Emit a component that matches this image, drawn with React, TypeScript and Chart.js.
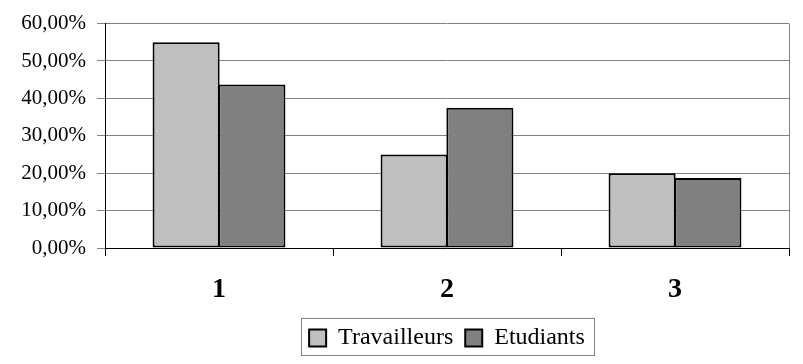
import React, { useEffect, useRef } from "react";
import { Chart, registerables } from "chart.js";

Chart.register(...registerables);

const categories = ["1", "2", "3"];
const travailleurs = [55, 25, 20];
const etudiants = [43.75, 37.5, 18.75];
const seriesNames = ["Travailleurs", "Etudiants"];
const yMin = 0;
const yMax = 60;
const yStep = 10;

const SERIF = "'Liberation Serif', 'Times New Roman', serif";

const framePlugin = {
  id: "frame",
  beforeDatasetsDraw(chart: any) {
    const { ctx, chartArea } = chart;
    ctx.save();
    ctx.strokeStyle = "#808080";
    ctx.lineWidth = 1;
    ctx.beginPath();
    const x = Math.round(chartArea.right) + 0.5;
    ctx.moveTo(x, chartArea.top);
    ctx.lineTo(x, chartArea.bottom);
    ctx.stroke();
    ctx.restore();
  },
  afterDraw(chart: any) {
    const { ctx, legend } = chart;
    if (!legend || !legend.legendHitBoxes || !legend.legendHitBoxes.length) return;
    const boxes = legend.legendHitBoxes;
    const l = Math.min(...boxes.map((b: any) => b.left)) - 8;
    const r = Math.max(...boxes.map((b: any) => b.left + b.width)) + 9;
    const t = legend.top + 4;
    const b = legend.bottom - 5;
    ctx.save();
    ctx.strokeStyle = "#808080";
    ctx.lineWidth = 1;
    ctx.strokeRect(Math.round(l) + 0.5, Math.round(t) + 0.5, Math.round(r - l), Math.round(b - t));
    ctx.restore();
  },
};

export default function App() {
  const ref = useRef<HTMLCanvasElement | null>(null);

  useEffect(() => {
    if (!ref.current) return;
    const chart = new Chart(ref.current, {
      type: "bar",
      data: {
        labels: categories,
        datasets: [
          {
            label: seriesNames[0],
            data: travailleurs,
            backgroundColor: "#c0c0c0",
            borderColor: "#000000",
            borderWidth: 2,
            borderSkipped: false,
          },
          {
            label: seriesNames[1],
            data: etudiants,
            backgroundColor: "#808080",
            borderColor: "#000000",
            borderWidth: 2,
            borderSkipped: false,
          },
        ],
      },
      options: {
        responsive: false,
        animation: false,
        layout: { padding: { top: 23, right: 14, left: 0, bottom: 4 } },
        datasets: {
          bar: { categoryPercentage: 0.577, barPercentage: 1.02 },
        },
        scales: {
          x: {
            offset: true,
            grid: {
              offset: true,
              drawOnChartArea: false,
              drawTicks: true,
              tickLength: 8,
              color: "#000000",
            },
            border: { color: "#000000", width: 1 },
            ticks: {
              color: "#000000",
              padding: 17,
              font: { family: SERIF, size: 28, weight: "bold" },
            },
            afterFit(scale: any) {
              scale.height = 66;
            },
          },
          y: {
            min: yMin,
            max: yMax,
            ticks: {
              stepSize: yStep,
              color: "#000000",
              padding: 11,
              font: { family: SERIF, size: 21 },
              callback: (v: any) => Number(v).toFixed(2).replace(".", ",") + "%",
            },
            grid: {
              color: "#808080",
              tickLength: 8,
              drawTicks: true,
            },
            border: { color: "#000000", width: 1 },
            afterFit(scale: any) {
              scale.width = 105;
            },
          },
        },
        plugins: {
          legend: {
            position: "bottom",
            fullSize: false,
            labels: {
              color: "#000000",
              boxWidth: 17,
              boxHeight: 17,
              padding: 12,
              font: { family: SERIF, size: 24 },
            },
          },
          tooltip: { enabled: false },
        },
      },
      plugins: [framePlugin],
    } as any);
    return () => chart.destroy();
  }, []);

  return (
    <div style={{ position: "absolute", left: 0, top: 0, width: 803, height: 364, background: "#fff" }}>
      <canvas ref={ref} width={803} height={364} style={{ display: "block" }} />
    </div>
  );
}
